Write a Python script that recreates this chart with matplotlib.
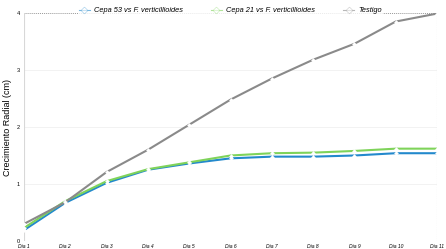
import matplotlib
matplotlib.use("Agg")
import matplotlib.pyplot as plt

days = ["Dia 1", "Dia 2", "Dia 3", "Dia 4", "Dia 5", "Dia 6", "Dia 7", "Dia 8", "Dia 9", "Dia 10", "Dia 11"]
cepa53 = [0.19, 0.67, 1.02, 1.25, 1.36, 1.45, 1.48, 1.48, 1.50, 1.54, 1.54]
cepa21 = [0.23, 0.70, 1.05, 1.26, 1.38, 1.50, 1.54, 1.55, 1.58, 1.62, 1.62]
testigo = [0.30, 0.68, 1.21, 1.60, 2.04, 2.48, 2.85, 3.18, 3.46, 3.85, 3.99]
labels = ["Cepa 53 vs F. verticillioides", "Cepa 21 vs F. verticillioides", "Testigo"]
colors = ["#2389cc", "#7fd35a", "#8a8a8a"]

fig = plt.figure(figsize=(4.46, 2.49), dpi=100)
ax = fig.add_axes([24/446, 1 - 241/249, (437-24)/446, (241-13)/249])
x = list(range(len(days)))
for y, lab, c in zip([cepa53, cepa21, testigo], labels, colors):
    ax.plot(x, y, color=c, lw=1.5, marker="D", ms=2.0, mfc="white", mec="white", mew=0.3, label=lab)

ax.set_xlim(0, len(days) - 1)
ax.set_ylim(0, 4)
ax.set_yticks([0, 1, 2, 3, 4])
ax.set_xticks(x)
ax.set_xticklabels(days, fontsize=3.6, style="italic", family="Liberation Sans")
ax.set_yticklabels(["0", "1", "2", "3", "4"], fontsize=4, family="Liberation Sans")
ax.tick_params(length=0, pad=3)
ax.tick_params(axis="x", pad=2)
for yy in [1, 2, 3]:
    ax.axhline(yy, color="#f0f0f0", lw=0.6, zorder=0)
ax.axhline(4, color="#999999", lw=0.7, ls=(0, (1, 1)), zorder=0)
for s in ["top", "right", "bottom", "left"]:
    ax.spines[s].set_visible(False)
ax.axvline(0, color="#d8d8d8", lw=0.8, zorder=0)
ax.axvline(len(days) - 1, color="#cfcfcf", lw=0.8, ls=(0, (1, 1)), zorder=0)
ax.axhline(0, color="#aaaaaa", lw=0.7, ls=(0, (1, 1)), zorder=0)
ax.set_ylabel("Crecimiento Radial (cm)", fontsize=6.5, family="Liberation Sans", labelpad=3)

leg = ax.legend(loc="center", bbox_to_anchor=(0.5, 1.01), ncol=3, frameon=True,
                prop={"style": "italic", "family": "Liberation Sans", "size": 5.3},
                handlelength=1.45, columnspacing=3.8, borderpad=0.1, handletextpad=0.6)
leg.get_frame().set_facecolor("white")
leg.get_frame().set_edgecolor("none")
for h in leg.get_lines():
    h.set_linewidth(0.8)
    h.set_marker("D")
    h.set_markersize(3.5)
    h.set_markerfacecolor("white")
for h, c in zip(leg.get_lines(), colors):
    h.set_markeredgecolor(c)
    h.set_alpha(0.6)

fig.savefig("out.png", dpi=100)
